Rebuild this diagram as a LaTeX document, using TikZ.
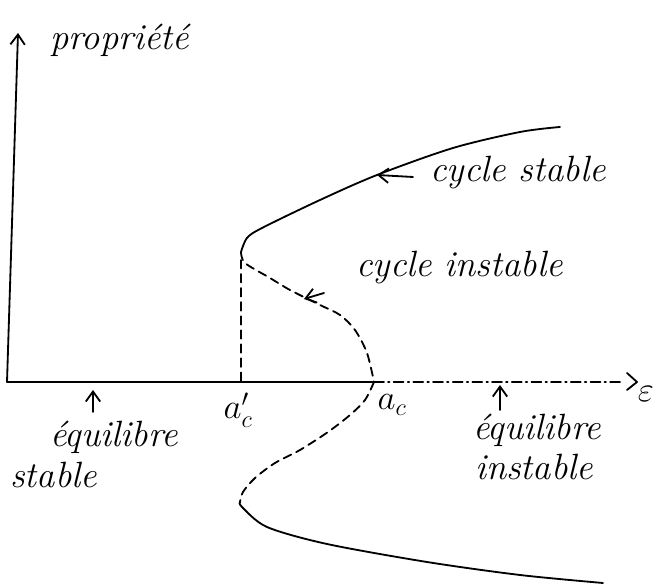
\documentclass[tikz,border=0pt]{standalone}
\usetikzlibrary{arrows.meta}

\tikzset{
    courbe/.style={line width=1.3pt, line cap=round, line join=round},
    instable/.style={courbe, dash pattern=on 6pt off 4pt},
    mixte/.style={courbe, dash pattern=on 7pt off 3pt on 1pt off 3pt},
    main/.style={font=\fontsize{26}{30}\selectfont\itshape, inner sep=0pt},
    lettre/.style={font=\fontsize{26}{30}\selectfont, inner sep=0pt}
}

\begin{document}
\begin{tikzpicture}[>={Straight Barb[length=2.5mm,width=3.6mm]}]
        \useasboundingbox (0,0) rectangle (16.425,14.7);

        % axes
        \coordinate (O) at (0.175,5.15);
        \coordinate (ac) at (9.35,5.15);
        \coordinate (acp) at (6.025,5.15);
        \draw[courbe,->] (O) -- (0.45,13.875);
        \node[main, anchor=base west] (prop) at (1.25,13.45) {propriété};
        \draw[courbe] (O) -- (ac);
        \draw[mixte] (ac) -- (15.55,5.15);
        \draw[courbe] (15.675,5.375) -- (15.925,5.15) -- (15.675,4.95);
        \node[lettre] (eps) at (16.15,4.85) {$\varepsilon$};

        % branche stable (haut et bas)
        \draw[courbe] plot[smooth] coordinates {(6.025,8.4) (6.175,8.75) (6.55,9.0) (8.0,9.7) (9.425,10.325) (11.325,11.0) (13.0,11.4) (14.0,11.525)};
        \draw[courbe] plot[smooth] coordinates {(6.0,2.15) (6.05,2.025) (6.675,1.525) (8.175,1.1) (10.675,0.65) (13.0,0.325) (15.075,0.125)};

        % branche instable
        \draw[instable] plot[smooth] coordinates {(6.025,8.4) (6.125,8.125) (6.75,7.75) (7.25,7.45) (8.0,7.075) (8.5,6.825) (8.875,6.45) (9.175,5.875) (ac)};
        \draw[instable] plot[smooth] coordinates {(ac) (9.125,4.7) (8.75,4.325) (8.2,3.9) (7.5,3.45) (6.875,3.125) (6.375,2.75) (6.075,2.4) (6.0,2.15)};
        \draw[instable] (6.025,8.2) -- (acp);

        % etiquettes
        \draw[courbe,->] (10.325,10.275) -- (9.425,10.325);
        \node[main, anchor=base west] (cs) at (10.75,10.15) {cycle stable};
        \draw[courbe,->] (8.1,7.375) -- (7.6,7.225);
        \node[main, anchor=base west] (ci) at (8.9,7.775) {cycle instable};

        \node[lettre] (lacp) at (5.95,4.45) {$a'_c$};
        \node[lettre] (lac) at (9.8,4.575) {$a_c$};

        \draw[courbe,->] (2.325,4.4) -- (2.325,4.95);
        \node[main, anchor=base west] (es) at (1.25,3.525) {équilibre};
        \node[main, anchor=base west] (s) at (0.25,2.5) {stable};
        \draw[courbe,->] (12.5,4.45) -- (12.5,5.075);
        \node[main, anchor=base west] (ei) at (11.825,3.7) {équilibre};
        \node[main, anchor=base west] (i) at (11.875,2.7) {instable};
\end{tikzpicture}
\end{document}
